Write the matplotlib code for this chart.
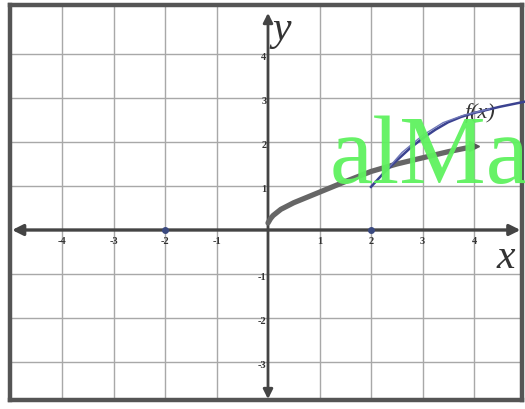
import matplotlib
matplotlib.use("Agg")
import matplotlib.pyplot as plt
import numpy as np

# ---- data ----
x_ticks = [-4, -3, -2, -1, 1, 2, 3, 4]
y_ticks = [-3, -2, -1, 1, 2, 3, 4]
x_tick_labels = ["-4", "-3", "-2", "-1", "1", "2", "3", "4"]
y_tick_labels = ["-3", "-2", "-1", "1", "2", "3", "4"]

gray_x = [0, 0.05, 0.1, 0.25, 0.5, 1.0, 1.5, 2.0, 2.5, 3.0, 3.5, 4.0]
gray_y = [0.16, 0.26, 0.33, 0.47, 0.62, 0.86, 1.10, 1.33, 1.50, 1.64, 1.78, 1.90]

blue_x = [2.0, 2.25, 2.5, 2.75, 3.0, 3.25, 3.5, 3.75, 4.0, 4.5, 5.0]
blue_y = [0.98, 1.30, 1.58, 1.85, 2.08, 2.28, 2.45, 2.57, 2.66, 2.80, 2.92]

blue2_x = [2.3, 2.6, 3.0, 3.4, 3.8, 4.3]
blue2_y = [1.36, 1.76, 2.15, 2.44, 2.61, 2.75]

dot_x = [-2, 2]
dot_y = [0, 0]

W, H = 525, 409
fig = plt.figure(figsize=(W / 100, H / 100), dpi=100)
fig.patch.set_facecolor("white")

# axes rect = drawn border
l, r, t, b = 10, 522, 5, 400
ax = fig.add_axes([l / W, 1 - b / H, (r - l) / W, (b - t) / H])
x0px, sx = 268, 51.5
y0px, sy = 230, 44.0
ax.set_xlim((l - x0px) / sx, (r - x0px) / sx)
ax.set_ylim((y0px - b) / sy, (y0px - t) / sy)

for s in ax.spines.values():
    s.set_linewidth(3.2)
    s.set_color("#555555")

ax.set_xticks(x_ticks)
ax.set_yticks(y_ticks)
ax.tick_params(length=0, labelbottom=False, labelleft=False)
ax.grid(True, color="#a8a8a8", linewidth=1.0)
ax.set_axisbelow(True)

xmin, xmax = ax.get_xlim()
ymin, ymax = ax.get_ylim()

# main axes with arrows
axcol = "#444444"
ax.annotate("", xy=(xmin + 0.04, 0), xytext=(0, 0),
            arrowprops=dict(arrowstyle="-|>", color=axcol, lw=2.4,
                            mutation_scale=16, shrinkA=0, shrinkB=0), zorder=3)
ax.annotate("", xy=(xmax - 0.03, 0), xytext=(0, 0),
            arrowprops=dict(arrowstyle="-|>", color=axcol, lw=2.4,
                            mutation_scale=16, shrinkA=0, shrinkB=0), zorder=3)
ax.annotate("", xy=(0, ymax - 0.18), xytext=(0, 0),
            arrowprops=dict(arrowstyle="-|>", color=axcol, lw=2.0,
                            mutation_scale=14, shrinkA=0, shrinkB=0), zorder=3)
ax.annotate("", xy=(0, ymin + 0.02), xytext=(0, 0),
            arrowprops=dict(arrowstyle="-|>", color=axcol, lw=2.0,
                            mutation_scale=14, shrinkA=0, shrinkB=0), zorder=3)

# tick labels
for xv, lab in zip(x_ticks, x_tick_labels):
    ax.text(xv, -0.27, lab, ha="center", va="center", fontsize=7.5,
            fontweight="bold", family="Liberation Serif", color="#333333")
for yv, lab in zip(y_ticks, y_tick_labels):
    ax.text(-0.03, yv - 0.08, lab, ha="right", va="center", fontsize=7.5,
            fontweight="bold", family="Liberation Serif", color="#333333")

# curves
ax.plot(gray_x, gray_y, color="#666666", lw=3.8, solid_capstyle="round", zorder=4)
ax.plot([gray_x[-1]], [gray_y[-1]], marker=">", color="#555555", ms=7, zorder=4)
ax.plot(blue_x, blue_y, color="#3b4290", lw=1.8, zorder=5, clip_on=False)
ax.plot(blue2_x, blue2_y, color="#7078b8", lw=1.0, zorder=5)
ax.plot(dot_x, dot_y, "o", color="#3b4a80", ms=4, zorder=6)

# labels
ax.text(0.27, 4.55, "y", fontsize=30, style="italic", family="Liberation Serif",
        ha="center", va="center", color="#333333")
ax.text(4.62, -0.62, "x", fontsize=30, style="italic", family="Liberation Serif",
        ha="center", va="center", color="#333333")
ax.text(4.12, 2.66, "f(x)", fontsize=16, style="italic", family="Liberation Serif",
        ha="center", va="center", color="#333333")

# watermark
ax.text(1.2, 1.07, "alMa", fontsize=70, family="Liberation Serif",
        color="#5ff25f", alpha=0.95, ha="left", va="baseline", zorder=10,
        clip_on=False)

fig.savefig("out.png", dpi=100, facecolor="white")
